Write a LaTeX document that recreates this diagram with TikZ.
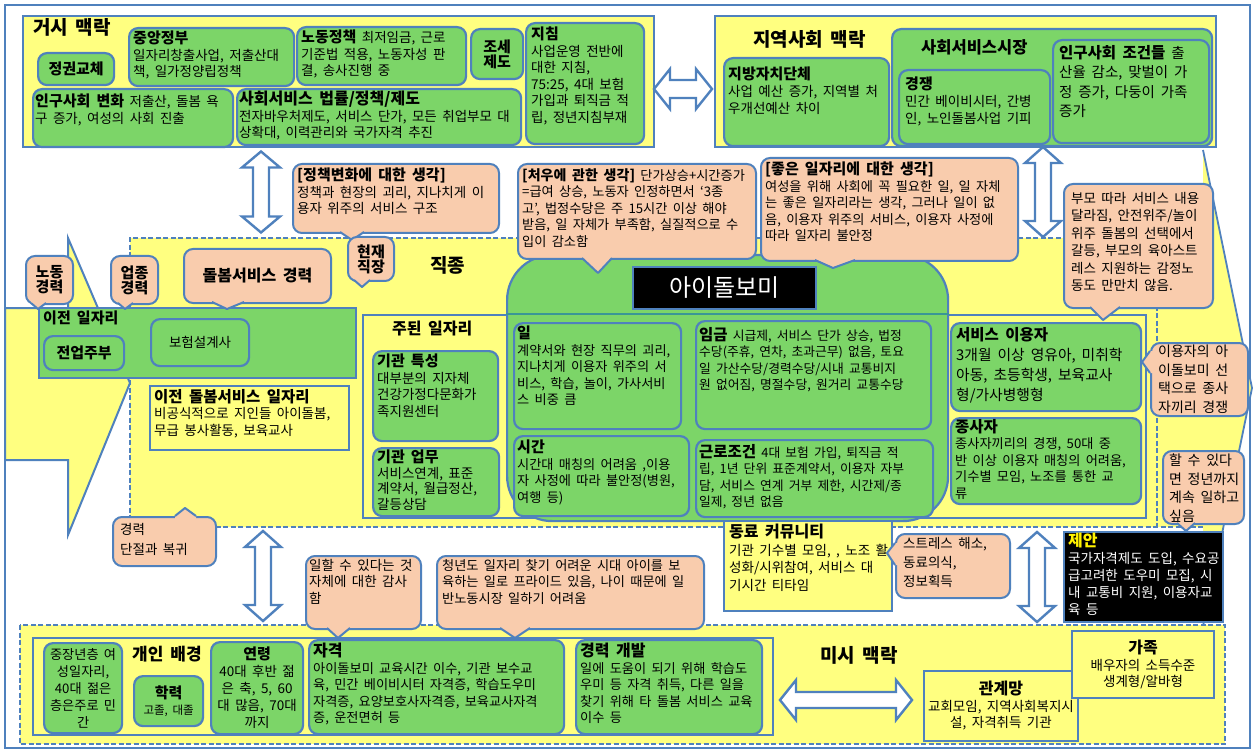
\documentclass[tikz,border=0pt]{standalone}
\usepackage{fontspec}
\setmainfont{Noto Sans CJK KR}[WordSpace=1.8]
\usetikzlibrary{calc}
\definecolor{bl}{RGB}{79,129,189}
\definecolor{yl}{RGB}{255,255,128}
\definecolor{gr}{RGB}{124,213,104}
\definecolor{sa}{RGB}{249,204,173}
\definecolor{tealx}{RGB}{58,150,150}
\newcommand{\ttx}[1]{{\fontsize{15}{16.5}\selectfont\bfseries #1}}
\newcommand{\ptrd}[5]{\fill[sa] (#1,#3-3) -- (#1,#3) -- (#4,#5) -- (#2,#3) -- (#2,#3-3) -- cycle; \draw[cl] (#1,#3) -- (#4,#5) -- (#2,#3);}
\newcommand{\ptru}[5]{\fill[sa] (#1,#3+3) -- (#1,#3) -- (#4,#5) -- (#2,#3) -- (#2,#3+3) -- cycle; \draw[cl] (#1,#3) -- (#4,#5) -- (#2,#3);}
\newcommand{\ptrl}[5]{\fill[sa] (#3+3,#1) -- (#3,#1) -- (#4,#5) -- (#3,#2) -- (#3+3,#2) -- cycle; \draw[cl] (#3,#1) -- (#4,#5) -- (#3,#2);}
\newcommand{\harr}[6]{\coordinate (#1) at (#2,#3);
\draw[darr] (#2-#4/2,#3) -- (#2-#4/2+16,#3-#5/2) -- (#2-#4/2+16,#3-#6/2) -- (#2+#4/2-16,#3-#6/2) -- (#2+#4/2-16,#3-#5/2) -- (#2+#4/2,#3) -- (#2+#4/2-16,#3+#5/2) -- (#2+#4/2-16,#3+#6/2) -- (#2-#4/2+16,#3+#6/2) -- (#2-#4/2+16,#3+#5/2) -- cycle;}
\newcommand{\varr}[6]{\coordinate (#1) at (#2,#3);
\draw[darr] (#2,#3-#4/2) -- (#2-#5/2,#3-#4/2+16) -- (#2-#6/2,#3-#4/2+16) -- (#2-#6/2,#3+#4/2-16) -- (#2-#5/2,#3+#4/2-16) -- (#2,#3+#4/2) -- (#2+#5/2,#3+#4/2-16) -- (#2+#6/2,#3+#4/2-16) -- (#2+#6/2,#3-#4/2+16) -- (#2+#5/2,#3-#4/2+16) -- cycle;}
\begin{document}
\begin{tikzpicture}[x=1pt,y=-1pt,
 frame/.style={draw=bl,line width=1.5pt},
 ybox/.style={draw=bl,fill=yl,line width=2pt},
 gbox/.style={draw=bl,fill=gr,line width=2.2pt,rounded corners=9pt},
 gsq/.style={draw=bl,fill=gr,line width=2.2pt},
 cbox/.style={draw=bl,fill=sa,line width=2pt,rounded corners=9pt},
 kbox/.style={draw=bl,fill=black,line width=2pt},
 cl/.style={draw=bl,line width=2pt,line join=round},
 dsh/.style={draw=bl,line width=1.8pt,dash pattern=on 5pt off 2.5pt},
 sol/.style={draw=bl,line width=1.8pt},
 darr/.style={draw=bl,fill=white,line width=2.4pt,line join=miter},
 bx/.style n args={4}{anchor=north west,minimum width=#3pt,minimum height=#4pt,inner sep=0pt,at={(#1,#2)}},
 txt/.style={inner sep=0pt,align=left,anchor=north west,font=\fontsize{13.5}{16.5}\selectfont},
 ctx/.style={align=center,font=\fontsize{13.5}{16.5}\selectfont},
 hd/.style={inner sep=0pt,anchor=north west,font=\fontsize{19}{21}\selectfont\bfseries}
]
\useasboundingbox (0,0) rectangle (1255,751);
\fill[white] (0,0) rectangle (1255,751);
\draw[frame] (5,5) rectangle (1250,748);

% big arrow of the middle band
\fill[yl] (130,238) -- (1203,238) -- (1203,150) -- (1252,388) -- (1203,626) -- (1203,527) -- (130,527) -- cycle;
\draw[dsh] (1203,238) -- (130,238) -- (130,527) -- (1203,527);
\draw[sol] (1203,150) -- (1252,388) -- (1203,626);
\draw[dsh] (1157,238) -- (1157,527);
% left arrow
\path[draw=bl,line width=2pt,fill=yl] (5,308) -- (68,308) -- (68,238) -- (130,383) -- (68,535) -- (68,460) -- (5,460) -- cycle;

% ===== macro context =====
\node[ybox,bx={22}{15}{631}{131}] (macro) {};
\node[hd] (macrot) at (33,18) {거시 맥락};
\node[gbox,bx={37}{52}{76}{32}] (regime) {\ttx{정권교체}};
\node[gbox,bx={128}{27}{165}{58}] (central) {};
\node[txt] (centralt) at (133,31) {\ttx{중앙정부}\\일자리창출사업, 저출산대\\책, 일가정양립정책};
\node[gbox,bx={296}{26}{169}{58}] (labor) {};
\node[txt] (labort) at (301,30) {\ttx{노동정책} 최저임금, 근로\\기준법 적용, 노동자성 판\\결, 송사진행 중};
\node[gbox,bx={470}{28}{52}{50},align=center] (tax) {\ttx{조세}\\\ttx{제도}};
\node[gbox,bx={525}{22}{118}{121}] (guide) {};
\node[txt] (guidet) at (531,27) {\ttx{지침}\\사업운영 전반에\\대한 지침,\\75:25, 4대 보험\\가입과 퇴직금 적\\립, 정년지침부재};
\node[gbox,bx={32}{88}{200}{58}] (popu) {};
\node[txt] (poput) at (35,94) {\ttx{인구사회 변화} 저출산, 돌봄 욕\\구 증가, 여성의 사회 진출};
\node[gbox,bx={236}{88}{284}{56}] (law) {};
\node[txt] (lawt) at (239,91) {{\fontsize{16}{16.5}\selectfont\bfseries 사회서비스 법률/정책/제도}\\전자바우처제도, 서비스 단가, 모든 취업부모 대\\상확대, 이력관리와 국가자격 추진};

% ===== local context =====
\node[ybox,bx={714}{15}{501}{131}] (local) {};
\node[hd] (localt) at (753,30) {지역사회 맥락};
\node[gbox,bx={723}{57}{165}{88}] (gov) {};
\node[txt,font=\fontsize{13.5}{17}\selectfont] (govt) at (728,67) {\ttx{지방자치단체}\\사업 예산 증가, 지역별 처\\우개선예산 차이};
\node[gbox,bx={891}{28}{320}{117}] (market) {};
\node[inner sep=0pt,anchor=north west,font=\fontsize{16.5}{18}\selectfont\bfseries] (markett) at (921,39) {사회서비스시장};
\node[gbox,bx={898}{69}{151}{74}] (comp) {};
\node[txt,font=\fontsize{13.5}{17}\selectfont] (compt) at (905,77) {\ttx{경쟁}\\민간 베이비시터, 간병\\인, 노인돌봄사업 기피};
\node[gbox,bx={1052}{39}{156}{103}] (popc) {};
\node[txt,font=\fontsize{14.5}{19.5}\selectfont] (popct) at (1059,45) {{\fontsize{15.5}{19.5}\selectfont\bfseries 인구사회 조건들} 출\\산율 감소, 맞벌이 가\\정 증가, 다둥이 가족\\증가};

\harr{hA}{683}{89}{58}{40}{18}
\varr{vA}{261}{192}{81}{38}{16}
\varr{vB}{1043}{192}{90}{36}{16}

% ===== middle band =====
\node[hd] (jobt) at (430,256) {직종};
\node[gsq,bx={38}{307}{317}{70}] (prev) {};
\node[inner sep=0pt,anchor=north west,font=\fontsize{15}{16}\selectfont\bfseries] (prevt) at (43,311) {이전 일자리};
\node[gbox,bx={43}{335}{80}{34}] (house) {\ttx{전업주부}};
\node[gbox,bx={150}{318}{98}{47},ctx] (insur) {보험설계사};
\node[ybox,bx={149}{385}{199}{64}] (prevcare) {};
\node[txt] (prevcaret) at (154,389) {{\fontsize{15.5}{16.5}\selectfont\bfseries 이전 돌봄서비스 일자리}\\비공식적으로 지인들 아이돌봄,\\무급 봉사활동, 보육교사};

\node[ybox,bx={362}{314}{783}{203}] (mainjob) {};
\node[inner sep=0pt,anchor=north west,font=\fontsize{16}{16}\selectfont\bfseries] (mainjobt) at (392,321) {주된 일자리};
\node[gbox,bx={372}{350}{125}{90}] (inst) {};
\node[txt] (instt) at (377,354) {\ttx{기관 특성}\\대부분의 지자체\\건강가정다문화가\\족지원센터};
\node[gbox,bx={372}{447}{126}{68}] (instw) {};
\node[txt,font=\fontsize{13.5}{15.5}\selectfont] (instwt) at (377,450) {\ttx{기관 업무}\\서비스연계, 표준\\계약서, 월급정산,\\갈등상담};

\node[draw=bl,fill=gr,line width=2.2pt,rounded corners=45pt,bx={506}{254}{441}{266}] (idol) {};
\draw[tealx,line width=2pt] (idol.west |- mainjob.north) -- (idol.east |- mainjob.north);
\node[kbox,bx={632}{266}{183}{42},text=white,font=\fontsize{24}{26}\selectfont] (idolt) {아이돌보미};
\node[gbox,bx={513}{322}{167}{106}] (work) {};
\node[txt,font=\fontsize{13.2}{16.5}\selectfont] (workt) at (517,326) {\ttx{일}\\계약서와 현장 직무의 괴리,\\지나치게 이용자 위주의 서\\비스, 학습, 놀이, 가사서비\\스 비중 큼};
\node[gbox,bx={695}{320}{235}{108}] (wage) {};
\node[txt,font=\fontsize{12.8}{16.5}\selectfont] (waget) at (699,327) {{\fontsize{15.5}{16.5}\selectfont\bfseries 임금} 시급제, 서비스 단가 상승, 법정\\수당(주휴, 연차, 초과근무) 없음, 토요\\일 가산수당/경력수당/시내 교통비지\\원 없어짐, 명절수당, 원거리 교통수당};
\node[gbox,bx={513}{435}{175}{80}] (time) {};
\node[txt,font=\fontsize{13.2}{16.5}\selectfont] (timet) at (517,440) {\ttx{시간}\\시간대 매칭의 어려움 ,이용\\자 사정에 따라 불안정(병원,\\여행 등)};
\node[gbox,bx={695}{439}{237}{77}] (cond) {};
\node[txt,font=\fontsize{12.8}{16.5}\selectfont] (condt) at (699,444) {{\fontsize{15.5}{16.5}\selectfont\bfseries 근로조건} 4대 보험 가입, 퇴직금 적\\립, 1년 단위 표준계약서, 이용자 자부\\담, 서비스 연계 거부 제한, 시간제/종\\일제, 정년 없음};
\node[gbox,bx={950}{322}{190}{88}] (user) {};
\node[txt,font=\fontsize{14.8}{20}\selectfont] (usert) at (956,327) {{\fontsize{15.5}{20}\selectfont\bfseries 서비스 이용자}\\3개월 이상 영유아, 미취학\\아동, 초등학생, 보육교사\\형/가사병행형};
\node[gbox,bx={950}{417}{190}{86}] (worker) {};
\node[txt,font=\fontsize{13.2}{16.5}\selectfont] (workert) at (955,419) {{\fontsize{15.5}{16.5}\selectfont\bfseries 종사자}\\종사자끼리의 경쟁, 50대 중\\반 이상 이용자 매칭의 어려움,\\기수별 모임, 노조를 통한 교\\류};

% callouts of the middle band
\node[cbox,bx={292}{163}{206}{69}] (cpol) {};
\ptrd{340}{364}{232}{352}{240}
\node[txt] (cpolt) at (297,168) {{\fontsize{15}{16.5}\selectfont\bfseries [정책변화에 대한 생각]}\\정책과 현장의 괴리, 지나치게 이\\용자 위주의 서비스 구조};
\node[cbox,bx={347}{236}{46}{44},align=center] (cnow) {\ttx{현재}\\\ttx{직장}};
\ptrd{354}{370}{280}{362}{287}
\node[cbox,bx={517}{163}{238}{95}] (cpay) {};
\ptrd{582}{612}{258}{598}{273}
\node[txt,font=\fontsize{13.2}{16.5}\selectfont] (cpayt) at (522,168) {{\fontsize{14}{16.5}\selectfont\bfseries [처우에 관한 생각]} 단가상승+시간증가\\=급여 상승, 노동자 인정하면서 ‘3종\\고’, 법정수당은 주 15시간 이상 해야\\받음, 일 자체가 부족함, 실질적으로 수\\입이 감소함};
\node[cbox,bx={760}{157}{257}{103}] (cgood) {};
\ptrd{815}{855}{260}{833}{268}
\node[txt,font=\fontsize{13.2}{16.5}\selectfont] (cgoodt) at (765,162) {{\fontsize{15}{16.5}\selectfont\bfseries [좋은 일자리에 대한 생각]}\\여성을 위해 사회에 꼭 필요한 일, 일 자체\\는 좋은 일자리라는 생각, 그러나 일이 없\\음, 이용자 위주의 서비스, 이용자 사정에\\따라 일자리 불안정};
\node[cbox,bx={1063}{183}{149}{124}] (cpar) {};
\ptrd{1090}{1120}{307}{1103}{320}
\node[txt,font=\fontsize{13.5}{17.5}\selectfont] (cpart) at (1071,192) {부모 따라 서비스 내용\\달라짐, 안전위주/놀이\\위주 돌봄의 선택에서\\갈등, 부모의 육아스트\\레스 지원하는 감정노\\동도 만만치 않음.};
\node[cbox,bx={25}{255}{47}{48},align=center] (clab) {\ttx{노동}\\\ttx{경력}};
\ptrd{31}{46}{303}{38}{309}
\node[cbox,bx={110}{255}{47}{48},align=center] (cind) {\ttx{업종}\\\ttx{경력}};
\ptrd{118}{133}{303}{125}{309}
\node[cbox,bx={183}{248}{147}{54}] (ccare) {{\fontsize{16}{17}\selectfont\bfseries 돌봄서비스 경력}};
\ptrd{212}{244}{302}{227}{309}
\node[cbox,bx={1150}{342}{97}{73}] (ccomp) {};
\ptrl{351}{373}{1150}{1142}{362}
\node[txt,font=\fontsize{14}{18.5}\selectfont] (ccompt) at (1158,345) {이용자의 아\\이돌보미 선\\택으로 종사\\자끼리 경쟁};
\node[cbox,bx={1162}{450}{81}{73}] (cret) {};
\ptrd{1177}{1195}{523}{1186}{531}
\node[txt,font=\fontsize{14}{18.5}\selectfont] (crett) at (1169,454) {할 수 있다\\면 정년까지\\계속 일하고\\싶음};

% ===== between middle and bottom =====
\node[cbox,bx={112}{516}{103}{49}] (cbrk) {};
\ptru{175}{196}{516}{185}{508}
\node[txt,font=\fontsize{13.5}{20}\selectfont] (cbrkt) at (120,523) {경력\\단절과 복귀};
\varr{vC}{263}{576}{90}{36}{16}
\varr{vD}{1037}{577}{90}{36}{16}
\node[ybox,bx={723}{520}{168}{90}] (peer) {};
\node[txt,font=\fontsize{13.5}{17.5}\selectfont] (peert) at (729,524) {{\fontsize{16}{17.5}\selectfont\bfseries 동료 커뮤니티}\\기관 기수별 모임, , 노조 활\\성화/시위참여, 서비스  대\\기시간 티타임};
\node[cbox,bx={895}{533}{114}{64}] (cstr) {};
\ptrl{543}{565}{895}{887}{553}
\node[txt,font=\fontsize{13.5}{19}\selectfont] (cstrt) at (903,537) {스트레스 해소,\\동료의식,\\정보획득};
\node[kbox,bx={1063}{531}{159}{90}] (prop) {};
\node[txt,text=white,font=\fontsize{13.5}{17}\selectfont] (propt) at (1068,533) {{\color{yellow}\fontsize{16}{17}\selectfont\bfseries 제안}\\국가자격제도 도입, 수요공\\급고려한 도우미 모집, 시\\내 교통비 지원, 이용자교\\육 등};

% ===== micro context =====
\path[dsh,fill=yl] (20,625) rectangle (1225,744);
\node[inner sep=0pt,minimum width=1205pt,minimum height=119pt,anchor=north west] (micro) at (20,625) {};
\node[ybox,bx={32}{637}{740}{97}] (personal) {};
\node[gbox,bx={43}{642}{78}{90},ctx,font=\fontsize{13.2}{17}\selectfont] (midage) {중장년층 여\\성일자리,\\40대 젊은\\층은주로 민\\간};
\node[inner sep=0pt,anchor=north west,font=\fontsize{17}{18}\selectfont\bfseries] (persont) at (132,646) {개인 배경};
\node[gbox,bx={133}{675}{69}{50},ctx] (edu) {\ttx{학력}\\{\fontsize{11.5}{13}\selectfont 고졸, 대졸}};
\node[gbox,bx={210}{641}{92}{92},ctx,font=\fontsize{13.5}{17}\selectfont] (age) {\ttx{연령}\\40대 후반 젊\\은 축, 5, 60\\대 많음, 70대\\까지};
\node[gbox,bx={308}{639}{255}{94}] (qual) {};
\node[txt,font=\fontsize{13.2}{16.5}\selectfont] (qualt) at (313,643) {{\fontsize{16}{16.5}\selectfont\bfseries 자격}\\아이돌보미 교육시간 이수, 기관 보수교\\육, 민간 베이비시터 자격증, 학습도우미\\자격증, 요양보호사자격증, 보육교사자격\\증, 운전면허 등};
\node[gbox,bx={575}{639}{186}{94}] (career) {};
\node[txt,font=\fontsize{13.2}{16.5}\selectfont] (careert) at (580,643) {{\fontsize{16}{16.5}\selectfont\bfseries 경력 개발}\\일에 도움이 되기 위해 학습도\\우미 등 자격 취득, 다른 일을\\찾기 위해 타 돌봄 서비스 교육\\이수 등};
\node[hd] (microt) at (820,646) {미시 맥락};
\harr{hB}{846}{700}{132}{40}{16}
\node[ybox,bx={923}{670}{154}{70},ctx] (net) {{\fontsize{16}{18}\selectfont\bfseries 관계망}\\교회모임, 지역사회복지시\\설, 자격취득 기관};
\node[ybox,bx={1071}{630}{142}{67},ctx] (fam) {{\fontsize{16}{18}\selectfont\bfseries 가족}\\배우자의 소득수준\\생계형/알바형};

% callouts pointing to the micro context
\node[cbox,bx={305}{555}{115}{73}] (cthx) {};
\ptrd{327}{350}{628}{338}{638}
\node[txt] (cthxt) at (309,559) {일할 수 있다는 것\\자체에 대한 감사\\함};
\node[cbox,bx={436}{555}{267}{73}] (cpride) {};
\ptrd{500}{530}{628}{515}{638}
\node[txt,font=\fontsize{13.2}{16.5}\selectfont] (cpridet) at (442,559) {청년도 일자리 찾기 어려운 시대  아이를 보\\육하는 일로 프라이드 있음, 나이 때문에 일\\반노동시장 일하기 어려움};
\end{tikzpicture}
\end{document}
